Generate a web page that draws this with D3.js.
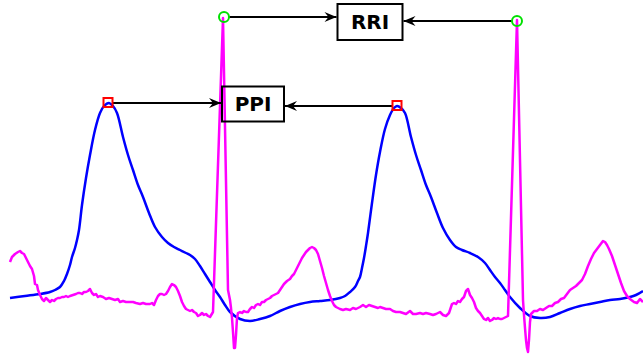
<!DOCTYPE html>
<html>
<head>
<meta charset="utf-8">
<script src="https://cdn.jsdelivr.net/npm/d3@7"></script>
<style>
  body { margin: 0; background: #fff; }
  .box text { font-family: "DejaVu Sans", sans-serif; font-weight: bold; font-size: 20px; }
</style>
</head>
<body>
<script>
// ECG samples [t, amplitude]
var ecg = [
  [0,95],[2,100],[5,103],[8,105],[10,106],[12,104],[14,103],[16,99],[18,95],[20,91],[22,88],[24,81],[25,73],[27,72],[28,67],
  [30,62],[32,58],[34,56],[36,59],[38,57],[40,55],[42,57],[44,56],[46,58],[48,59],[50,59],[52,60],[54,60],[56,61],[58,60],
  [60,61],[63,62],[66,63],[68,64],[70,64],[72,63],[74,65],[76,65],[78,66],[80,68],[82,64],[84,62],[86,63],[88,60],[90,61],
  [93,60],[96,58],[99,59],[102,58],[105,57],[108,58],[110,55],[113,56],[116,55],[120,55],[123,55],[126,54],[130,53],[133,54],
  [136,53],[140,53],[142,54],[144,52],[146,57],[148,61],[150,63],[152,63],[154,62],[156,63],[158,66],[160,70],[162,73],[164,72],
  [166,70],[168,66],[170,61],[172,55],[174,51],[176,48],[178,47],[180,46],[182,47],[184,45],[186,44],[188,41],[190,42],[192,44],
  [194,42],[196,43],[198,41],[200,40],[203,45],[213,339],[218,67],[220,57],[221,49],[222,39],[223,25],[224,9],[225,9],[226,22],
  [227,39],[228,44],[230,45],[232,44],[234,46],[236,45],[238,45],[240,48],[242,50],[244,49],[246,52],[248,53],[250,52],[252,55],
  [254,55],[256,57],[258,58],[260,59],[262,61],[264,62],[266,63],[268,64],[270,67],[272,70],[274,73],[277,76],[280,78],[282,81],
  [284,83],[286,87],[288,91],[290,95],[292,99],[294,102],[296,105],[298,107],[300,109],[302,110],[304,109],[306,107],[308,103],
  [310,96],[312,89],[314,81],[316,74],[318,67],[320,61],[322,56],[324,52],[326,50],[328,49],[330,48],[333,47],[336,48],[340,47],
  [343,49],[346,48],[350,50],[353,52],[356,50],[359,52],[362,51],[365,50],[368,49],[370,50],[373,49],[376,48],[380,48],[383,46],
  [386,45],[390,45],[393,44],[396,43],[400,46],[403,43],[406,43],[410,44],[413,43],[416,44],[420,43],[423,42],[426,43],[430,45],
  [433,42],[436,41],[439,44],[442,53],[444,54],[446,53],[448,56],[450,55],[452,58],[454,60],[456,66],[458,68],[460,62],[462,59],
  [464,55],[466,49],[468,46],[470,44],[472,41],[474,38],[476,37],[478,39],[480,36],[482,37],[484,39],[486,38],[488,39],[490,38],
  [492,38],[494,39],[496,40],[498,41],[507,337],[513,57],[514,42],[515,29],[516,17],[517,9],[518,5],[519,17],[520,35],[521,43],
  [524,46],[527,46],[530,48],[533,47],[536,49],[539,51],[542,51],[545,54],[548,55],[551,58],[554,59],[557,63],[560,67],[563,69],
  [566,71],[569,74],[572,77],[575,83],[578,91],[581,98],[584,104],[587,108],[590,112],[593,116],[595,115],[597,112],[599,108],
  [602,101],[605,92],[608,83],[611,74],[614,66],[617,61],[620,58],[624,55],[627,54],[630,58],[633,55]
];

// PPG samples [t, amplitude]
var ppg = [
  [0,59],[15,61],[30,63],[40,65],[45,67],[50,70],[54,76],[57,83],[60,92],[62,100],[65,109],[67,117],[69,127],[72,152],[76,179],
  [80,202],[85,227],[90,244],[94,251],[99,254],[103,251],[107,244],[113,220],[118,202],[123,187],[128,172],[133,160],[139,144],
  [145,130],[152,120],[158,114],[164,110],[170,107],[176,104],[180,102],[185,98],[190,91],[195,83],[200,75],[205,67],[210,60],
  [215,52],[220,45],[230,38],[240,36],[250,38],[260,41],[270,46],[280,50],[290,53],[300,55],[310,56],[320,57],[330,59],[335,61],
  [340,65],[345,70],[348,76],[350,80],[352,89],[354,99],[356,111],[358,124],[362,154],[366,182],[370,205],[375,228],[380,242],
  [384,249],[387,251],[391,249],[395,244],[401,220],[406,202],[411,187],[416,172],[421,160],[427,144],[433,129],[440,117],
  [446,110],[452,107],[460,104],[468,100],[475,94],[480,87],[485,80],[490,74],[495,67],[500,60],[510,49],[520,41],[530,39],
  [540,40],[550,44],[560,48],[570,51],[580,53],[590,55],[600,57],[610,58],[620,60],[626,62],[633,66]
];

// detected peaks
var rPeaks = [[214, 340], [507, 336]];
var pPeaks = [[98, 254], [387, 251]];

// interval labels and their centres
var labels = ["RRI", "PPI"];
var labelPos = [[360, 335], [243, 253]];

var width = 643, height = 357;

var x = d3.scaleLinear().domain([0, 633]).range([10, 643]);
var y = d3.scaleLinear().domain([0, 340]).range([357, 17]);

var svg = d3.select("body").append("svg")
  .attr("width", width)
  .attr("height", height);

svg.append("defs").append("marker")
  .attr("id", "arrow")
  .attr("viewBox", "-13 -6 13 12")
  .attr("refX", 0)
  .attr("refY", 0)
  .attr("markerWidth", 13)
  .attr("markerHeight", 12)
  .attr("markerUnits", "userSpaceOnUse")
  .attr("orient", "auto")
  .append("path")
  .attr("d", "M0,0 L-12,-5 L-8,0 L-12,5 Z")
  .attr("fill", "#000");

var line = d3.line()
  .x(function(d) { return x(d[0]); })
  .y(function(d) { return y(d[1]); });

// PPG line (smooth)
svg.append("path")
  .datum(ppg)
  .attr("fill", "none")
  .attr("stroke", "#0000ff")
  .attr("stroke-width", 2.5)
  .attr("d", line.curve(d3.curveCatmullRom));

// ECG line
svg.append("path")
  .datum(ecg)
  .attr("fill", "none")
  .attr("stroke", "#ff00ff")
  .attr("stroke-width", 2.5)
  .attr("stroke-linejoin", "round")
  .attr("d", line.curve(d3.curveLinear));

// boxes
var boxW = [65, 62], boxH = [36, 35];
var boxes = svg.selectAll(".box").data(labels).enter().append("g")
  .attr("class", "box")
  .attr("transform", function(d, i) {
    return "translate(" + x(labelPos[i][0]) + "," + y(labelPos[i][1]) + ")";
  });

boxes.append("rect")
  .attr("x", function(d, i) { return -boxW[i] / 2; })
  .attr("y", function(d, i) { return -boxH[i] / 2; })
  .attr("width", function(d, i) { return boxW[i]; })
  .attr("height", function(d, i) { return boxH[i]; })
  .attr("fill", "none")
  .attr("stroke", "#000")
  .attr("stroke-width", 2);

boxes.append("text")
  .attr("text-anchor", "middle")
  .attr("dy", "0.36em")
  .text(function(d) { return d; });

// arrows from peaks to boxes
function arrow(px, py, tx) {
  svg.append("line")
    .attr("x1", px).attr("y1", py)
    .attr("x2", tx).attr("y2", py)
    .attr("stroke", "#000")
    .attr("stroke-width", 2)
    .attr("marker-end", "url(#arrow)");
}
var rri = labelPos[0], ppi = labelPos[1];
arrow(x(rPeaks[0][0]) + 5, y(rPeaks[0][1]), x(rri[0]) - boxW[0] / 2 - 1);
arrow(x(rPeaks[1][0]) - 5, y(rPeaks[1][1]), x(rri[0]) + boxW[0] / 2 + 1);
arrow(x(pPeaks[0][0]) + 5, y(pPeaks[0][1]), x(ppi[0]) - boxW[1] / 2 - 1);
arrow(x(pPeaks[1][0]) - 5, y(pPeaks[1][1]), x(ppi[0]) + boxW[1] / 2 + 1);

// R peak markers
svg.selectAll(".rpk").data(rPeaks).enter().append("circle")
  .attr("cx", function(d) { return x(d[0]); })
  .attr("cy", function(d) { return y(d[1]); })
  .attr("r", 5)
  .attr("fill", "none")
  .attr("stroke", "#00e000")
  .attr("stroke-width", 2);

// PPG peak markers
svg.selectAll(".ppk").data(pPeaks).enter().append("rect")
  .attr("x", function(d) { return x(d[0]) - 4.5; })
  .attr("y", function(d) { return y(d[1]) - 5; })
  .attr("width", 9)
  .attr("height", 9)
  .attr("fill", "none")
  .attr("stroke", "#ff0000")
  .attr("stroke-width", 2);
</script>
</body>
</html>
